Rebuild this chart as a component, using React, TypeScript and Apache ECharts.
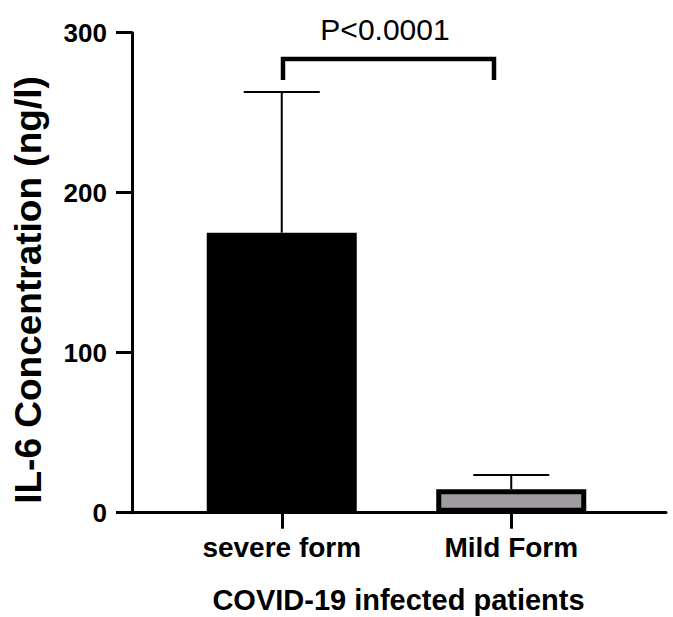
import React, { useEffect, useRef } from "react";
import * as echarts from "echarts";

const categories = ["severe form", "Mild Form"];
const means = [175, 14.6];
const errorTops = [263, 23.6];
const yTicks = [0, 100, 200, 300];
const yTitle = "IL-6 Concentration (ng/l)";
const xTitle = "COVID-19 infected patients";
const pLabel = "P<0.0001";

const FONT = "'Liberation Sans', Arial, Helvetica, sans-serif";

export default function App() {
  const ref = useRef<HTMLDivElement>(null);
  useEffect(() => {
    if (!ref.current) return;
    const chart = echarts.init(ref.current, null, { renderer: "svg" });
    const barColors = ["#000000", "#a19ca1"];
    chart.setOption({
      animation: false,
      backgroundColor: "#ffffff",
      grid: [
        { left: 167, right: 47, top: 32.7, bottom: 104.3 },
        { left: 132, right: 7, top: 32.7, bottom: 104.3 },
      ],
      xAxis: [
        {
          type: "category",
          gridIndex: 0,
          data: categories,
          axisLine: { show: false },
          axisTick: {
            show: true,
            alignWithLabel: true,
            length: 16,
            lineStyle: { color: "#000", width: 3 },
          },
          axisLabel: {
            color: "#000",
            fontFamily: FONT,
            fontWeight: "bold",
            fontSize: 28,
            margin: 21,
          },
        },
        {
          type: "value",
          gridIndex: 1,
          min: 0,
          max: 1,
          axisLine: { show: true, lineStyle: { color: "#000", width: 3 } },
          axisTick: { show: false },
          axisLabel: { show: false },
          splitLine: { show: false },
        },
      ],
      yAxis: [
        {
          type: "value",
          gridIndex: 0,
          min: yTicks[0],
          max: yTicks[yTicks.length - 1],
          interval: 100,
          offset: 35,
          axisLine: { show: true, lineStyle: { color: "#000", width: 3 } },
          axisTick: { show: true, length: 16, lineStyle: { color: "#000", width: 3 } },
          axisLabel: {
            color: "#000",
            fontFamily: FONT,
            fontWeight: "bold",
            fontSize: 26,
            margin: 25,
          },
          splitLine: { show: false },
        },
        {
          type: "value",
          gridIndex: 1,
          min: 0,
          max: 300,
          show: false,
        },
      ],
      series: [
        {
          type: "bar",
          xAxisIndex: 0,
          yAxisIndex: 0,
          barWidth: 150,
          data: means.map((v, i) => ({
            value: v,
            itemStyle:
              i === 0
                ? { color: barColors[0] }
                : { color: barColors[1], borderColor: "#000", borderWidth: 5 },
          })),
          z: 2,
        },
        {
          type: "custom",
          xAxisIndex: 0,
          yAxisIndex: 0,
          data: means.map((m, i) => [i, m, errorTops[i]]),
          z: 3,
          renderItem: (params: any, api: any) => {
            const idx = api.value(0);
            const base = api.coord([idx, api.value(1)]);
            const top = api.coord([idx, api.value(2)]);
            const half = 38;
            return {
              type: "group",
              children: [
                {
                  type: "line",
                  shape: { x1: base[0], y1: base[1], x2: top[0], y2: top[1] },
                  style: { stroke: "#000", lineWidth: 2 },
                },
                {
                  type: "line",
                  shape: { x1: top[0] - half, y1: top[1], x2: top[0] + half, y2: top[1] },
                  style: { stroke: "#000", lineWidth: 2 },
                },
              ],
            };
          },
        },
      ],
      graphic: [
        {
          type: "polyline",
          shape: { points: [[283, 80], [283, 59], [494, 59], [494, 80]] },
          style: { stroke: "#000", lineWidth: 4.5, fill: null, lineJoin: "miter" },
          z: 10,
        },
        {
          type: "text",
          x: 385,
          y: 29,
          style: {
            text: pLabel,
            fontFamily: FONT,
            fontSize: 30,
            fill: "#000",
            align: "center",
            verticalAlign: "middle",
          },
        },
        {
          type: "text",
          x: 398.5,
          y: 600,
          style: {
            text: xTitle,
            fontFamily: FONT,
            fontSize: 29,
            fontWeight: "bold",
            fill: "#000",
            align: "center",
            verticalAlign: "middle",
          },
        },
        {
          type: "text",
          x: 28.5,
          y: 290,
          rotation: Math.PI / 2,
          style: {
            text: yTitle,
            fontFamily: FONT,
            fontSize: 37,
            fontWeight: "bold",
            fill: "#000",
            align: "center",
            verticalAlign: "middle",
          },
        },
      ],
    });
    return () => chart.dispose();
  }, []);
  return (
    <div
      ref={ref}
      style={{ position: "fixed", left: 0, top: 0, width: 673, height: 617 }}
    />
  );
}
